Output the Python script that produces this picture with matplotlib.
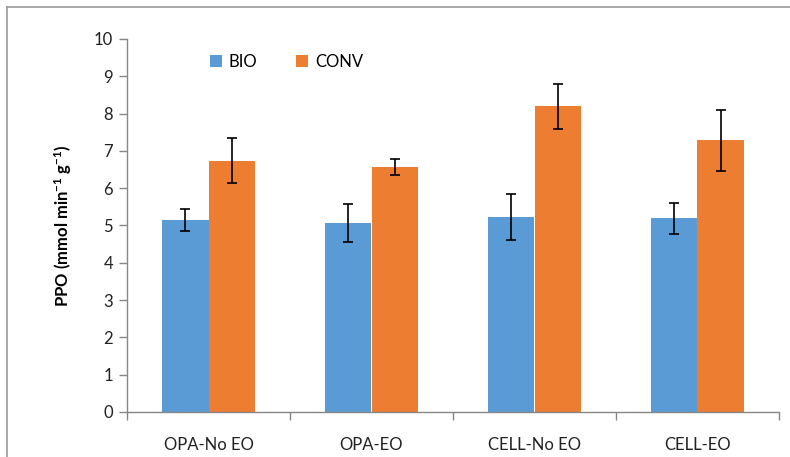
import numpy as np
import matplotlib
matplotlib.use("Agg")
import matplotlib.pyplot as plt
from matplotlib.lines import Line2D

plt.rcParams['font.family'] = ['Lato', 'DejaVu Sans']
plt.rcParams['mathtext.fontset'] = 'custom'
plt.rcParams['mathtext.bf'] = 'Lato:bold'
plt.rcParams['mathtext.rm'] = 'Lato'
plt.rcParams['mathtext.default'] = 'bf'

categories = ['OPA-No EO', 'OPA-EO', 'CELL-No EO', 'CELL-EO']
bio = [5.15, 5.07, 5.22, 5.19]
bio_err = [0.30, 0.50, 0.62, 0.41]
conv = [6.74, 6.57, 8.20, 7.28]
conv_err = [0.60, 0.21, 0.60, 0.81]

blue = '#5b9bd5'
orange = '#ed7d31'
axis_gray = '#868686'

fig = plt.figure(figsize=(7.9, 4.57), dpi=100)
ax = fig.add_axes([127 / 790, 1 - 412 / 457, (779 - 127) / 790, (412 - 39) / 457])

x = np.arange(len(categories))
w = 0.285
err_kw = dict(ecolor='black', elinewidth=1.2, capsize=3.5, capthick=1.2)
ax.bar(x - w / 2, bio, w, yerr=bio_err, color=blue, label='BIO', error_kw=err_kw)
ax.bar(x + w / 2, conv, w, yerr=conv_err, color=orange, label='CONV', error_kw=err_kw)

ax.set_xlim(-0.5, len(categories) - 0.5)
ax.set_ylim(0, 10)
ax.set_yticks(range(0, 11))
ax.set_xticks(x)
ax.set_xticklabels(categories)
ax.set_xticks(np.arange(-0.5, len(categories)), minor=True)
ax.tick_params(axis='x', which='major', length=0, pad=18, labelsize=12, labelcolor='#222222')
ax.tick_params(axis='x', which='minor', length=6, color=axis_gray, width=1)
ax.tick_params(axis='y', length=6, color=axis_gray, width=1, labelsize=12, labelcolor='#222222', pad=4)

for s in ['top', 'right']:
    ax.spines[s].set_visible(False)
for s in ['left', 'bottom']:
    ax.spines[s].set_color(axis_gray)
    ax.spines[s].set_linewidth(1)

ax.set_ylabel('PPO (mmol min$^{-1}$ g$^{-1}$)', fontsize=12, fontweight='bold', labelpad=14)

ax.legend(loc='upper left', bbox_to_anchor=(0.104, 1.0), ncol=2, frameon=False,
          fontsize=12, handlelength=0.75, handleheight=0.75, handletextpad=0.4,
          columnspacing=2.3)

# outer chart border (top and left visible)
fig.add_artist(Line2D([7 / 790, 7 / 790], [0, 1 - 7 / 457], color='#999999', lw=1.2))
fig.add_artist(Line2D([7 / 790, 1], [1 - 7 / 457, 1 - 7 / 457], color='#999999', lw=1.2))

fig.savefig('out.png', dpi=100)
